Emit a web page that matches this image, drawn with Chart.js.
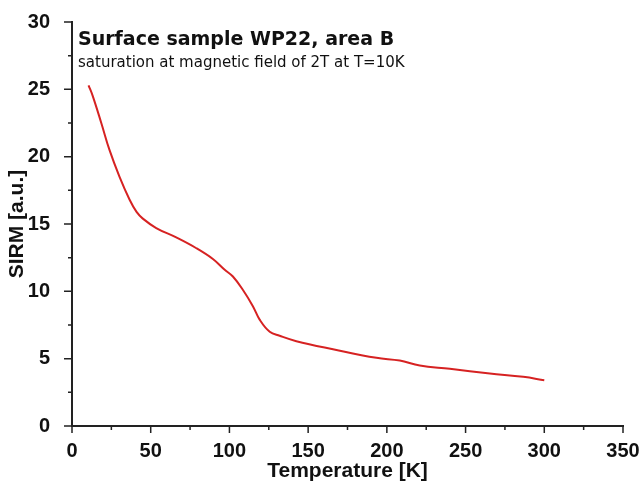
<!DOCTYPE html>
<html>
<head>
<meta charset="utf-8">
<script src="https://cdn.jsdelivr.net/npm/chart.js@4.4.1/dist/chart.umd.min.js"></script>
<style>
    body { margin: 0; background: #fff; }
    #wrap { width: 644px; height: 482px; }
</style>
</head>
<body>
<div id="wrap"><canvas id="sirmChart" width="644" height="482"></canvas></div>
<script>
// Temperature [K] and SIRM [a.u.]
const temperature = [10.5, 13.2, 18.6, 23.8, 30.2, 36.6, 41, 45.0, 53.5, 66.2, 79.0, 89.5, 97, 102.2, 108.6, 114.9, 119.2, 125.6, 131.9, 142.5, 165.8, 193.4, 208.2, 220.9, 240, 265.4, 286.6, 300];
const sirm = [25.3, 24.5, 22.5, 20.5, 18.5, 16.8, 15.9, 15.4, 14.7, 14.0, 13.2, 12.4, 11.6, 11.1, 10.1, 8.9, 7.9, 7.0, 6.7, 6.3, 5.7, 5.06, 4.86, 4.49, 4.25, 3.9, 3.65, 3.4];

const xTicks = [0, 50, 100, 150, 200, 250, 300, 350];
const yTicks = [0, 5, 10, 15, 20, 25, 30];

const titleLine1 = 'Surface sample WP22, area B';
const titleLine2 = 'saturation at magnetic field of 2T at T=10K';

const tickFont = { family: 'Liberation Sans', size: 20, weight: 'bold' };
const axisTitleFont = { family: 'Liberation Sans', size: 21, weight: 'bold' };

// draws major + minor tick marks outside the axes, plus the note text
const tickMarks = {
    id: 'tickMarks',
    afterDraw(chart) {
        const c = chart.ctx;
        const xs = chart.scales.x, ys = chart.scales.y;
        c.save();
        c.strokeStyle = '#222';
        c.lineWidth = 1.5;
        c.beginPath();
        for (let v = 0; v <= 350; v += 25) {
            const px = xs.getPixelForValue(v);
            const len = v % 50 === 0 ? 7 : 4;
            c.moveTo(px, ys.bottom);
            c.lineTo(px, ys.bottom + len);
        }
        for (let v = 0; v <= 30; v += 2.5) {
            const py = ys.getPixelForValue(v);
            const len = v % 5 === 0 ? 8 : 4;
            c.moveTo(xs.left, py);
            c.lineTo(xs.left - len, py);
        }
        c.stroke();

        c.fillStyle = '#111';
        c.textBaseline = 'alphabetic';
        c.font = 'bold 19px "DejaVu Sans"';
        c.fillText(titleLine1, xs.left + 6, 45);
        c.font = '15px "DejaVu Sans"';
        c.fillText(titleLine2, xs.left + 6, 67);
        c.restore();
    }
};

const ctx = document.getElementById('sirmChart').getContext('2d');
const sirmChart = new Chart(ctx, {
    type: 'line',
    data: {
        datasets: [{
            data: temperature.map((t, i) => ({ x: t, y: sirm[i] })),
            borderColor: '#d62222',
            borderWidth: 2,
            pointRadius: 0,
            tension: 0.4,
            fill: false
        }]
    },
    options: {
        responsive: false,
        animation: false,
        layout: { padding: { top: 22, right: 21, left: 0, bottom: 0 } },
        plugins: {
            legend: { display: false },
            tooltip: { enabled: false }
        },
        scales: {
            x: {
                type: 'linear',
                min: 0,
                max: 350,
                afterBuildTicks: axis => { axis.ticks = xTicks.map(v => ({ value: v })); },
                grid: { display: false },
                border: { display: true, color: '#222', width: 2 },
                ticks: { color: '#111', font: tickFont, padding: 5, maxRotation: 0 },
                title: {
                    display: true,
                    text: 'Temperature [K]',
                    color: '#111',
                    font: axisTitleFont,
                    padding: { top: 0, bottom: -2 }
                },
                afterFit: axis => {
                    axis.height = 56;
                    axis.paddingLeft = 0;
                    axis.paddingRight = 0;
                }
            },
            y: {
                min: 0,
                max: 30,
                afterBuildTicks: axis => { axis.ticks = yTicks.map(v => ({ value: v })); },
                grid: { display: false },
                border: { display: true, color: '#222', width: 2 },
                ticks: { color: '#111', font: tickFont, padding: 14 },
                title: {
                    display: true,
                    text: 'SIRM [a.u.]',
                    color: '#111',
                    font: axisTitleFont,
                    padding: { top: 5, bottom: 0 }
                },
                afterFit: axis => {
                    axis.width = 72;
                    axis.paddingTop = 0;
                    axis.paddingBottom = 0;
                }
            }
        }
    },
    plugins: [tickMarks]
});
</script>
</body>
</html>
